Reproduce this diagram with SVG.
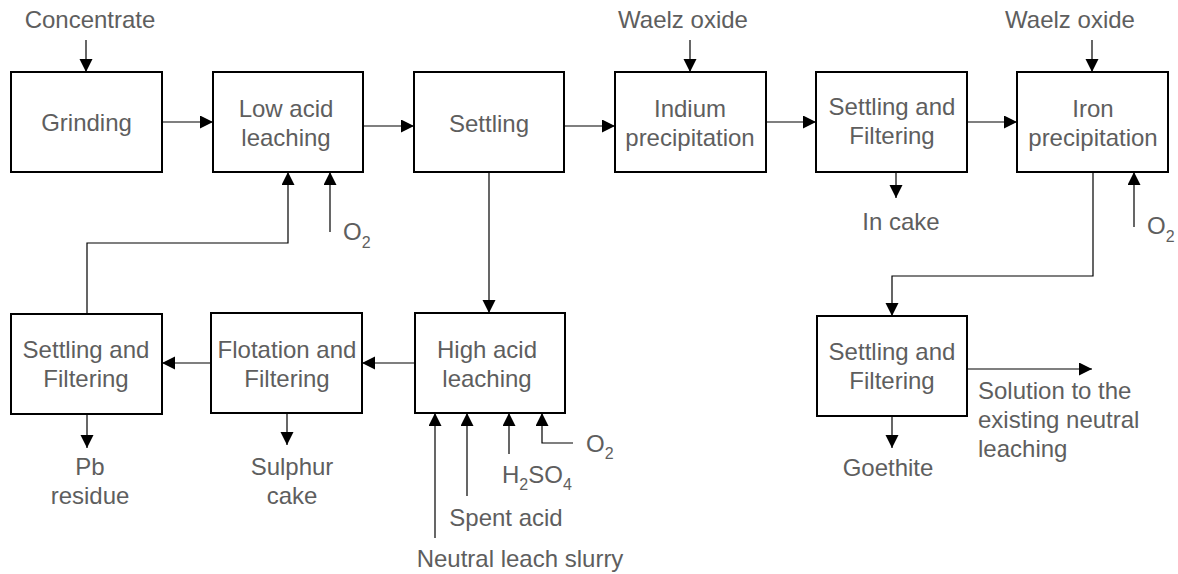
<svg xmlns="http://www.w3.org/2000/svg" width="1178" height="574" viewBox="0 0 1178 574">
<style>
.box{fill:#fff;stroke:#000;stroke-width:2}
.t{font-family:"Liberation Sans",Arial,sans-serif;font-size:24px;fill:#5e5e5e}
.c{text-anchor:middle}
.ln{fill:none;stroke:#000;stroke-width:1.2}
.ar{fill:none;stroke:#000;stroke-width:1.2;marker-end:url(#ah)}
.sub{font-size:16px}
</style>
<defs>
<marker id="ah" markerUnits="userSpaceOnUse" markerWidth="14" markerHeight="14" refX="13" refY="6.5" orient="auto">
<path d="M0,0 L13,6.5 L0,13 z" fill="#000"/>
</marker>
</defs>
<rect width="1178" height="574" fill="#fff"/>
<g id="connectors">
<path class="ar" d="M86,40 V72"/>
<path class="ar" d="M162,122 H213"/>
<path class="ar" d="M363,126 H414"/>
<path class="ar" d="M564,126 H615"/>
<path class="ar" d="M690,40 V72"/>
<path class="ar" d="M766,122 H816"/>
<path class="ar" d="M896,172 V198"/>
<path class="ar" d="M967,122 H1017"/>
<path class="ar" d="M1092,40 V72"/>
<path class="ar" d="M1134,227 V172"/>
<path class="ar" d="M1093,172 V276 H892 V316"/>
<path class="ar" d="M967,369 H1092"/>
<path class="ar" d="M892,416 V448"/>
<path class="ar" d="M489,172 V313"/>
<path class="ar" d="M415,363 H362"/>
<path class="ar" d="M211,363 H162"/>
<path class="ar" d="M87,414 V448"/>
<path class="ar" d="M287,413 V445"/>
<path class="ar" d="M87,314 V243 H288 V172"/>
<path class="ar" d="M330,232 V172"/>
<path class="ar" d="M435,538 V413"/>
<path class="ar" d="M467,496 V413"/>
<path class="ar" d="M509,454 V413"/>
<path class="ar" d="M573,443 H542 V413"/>
</g>
<g id="grinding">
<rect class="box" x="11" y="72" width="151" height="100"/>
<text class="t c" x="86.5" y="131">Grinding</text>
</g>
<g id="low-acid-leaching">
<rect class="box" x="213" y="72" width="150" height="100"/>
<text class="t c" x="286" y="117">Low acid</text>
<text class="t c" x="286" y="146">leaching</text>
</g>
<g id="settling">
<rect class="box" x="414" y="72" width="150" height="100"/>
<text class="t c" x="489" y="132">Settling</text>
</g>
<g id="indium-precipitation">
<rect class="box" x="615" y="72" width="151" height="100"/>
<text class="t c" x="690" y="117">Indium</text>
<text class="t c" x="690" y="146">precipitation</text>
</g>
<g id="settling-filtering-1">
<rect class="box" x="816" y="72" width="151" height="100"/>
<text class="t c" x="892" y="115">Settling and</text>
<text class="t c" x="892" y="144">Filtering</text>
</g>
<g id="iron-precipitation">
<rect class="box" x="1017" y="72" width="151" height="100"/>
<text class="t c" x="1093" y="117">Iron</text>
<text class="t c" x="1093" y="146">precipitation</text>
</g>
<g id="settling-filtering-3">
<rect class="box" x="817" y="316" width="150" height="100"/>
<text class="t c" x="892" y="360">Settling and</text>
<text class="t c" x="892" y="389">Filtering</text>
</g>
<g id="high-acid-leaching">
<rect class="box" x="415" y="313" width="150" height="100"/>
<text class="t c" x="487" y="358">High acid</text>
<text class="t c" x="487" y="387">leaching</text>
</g>
<g id="flotation-filtering">
<rect class="box" x="211" y="313" width="151" height="100"/>
<text class="t c" x="287" y="358">Flotation and</text>
<text class="t c" x="287" y="387">Filtering</text>
</g>
<g id="settling-filtering-2">
<rect class="box" x="11" y="314" width="151" height="100"/>
<text class="t c" x="86" y="358">Settling and</text>
<text class="t c" x="86" y="387">Filtering</text>
</g>
<g id="labels">
<text class="t c" x="90" y="28">Concentrate</text>
<text class="t c" x="683" y="28">Waelz oxide</text>
<text class="t c" x="1070" y="28">Waelz oxide</text>
<text class="t" x="343" y="240">O<tspan class="sub" dy="8">2</tspan></text>
<text class="t" x="1147" y="234">O<tspan class="sub" dy="8">2</tspan></text>
<text class="t" x="586" y="452">O<tspan class="sub" dy="7">2</tspan></text>
<text class="t c" x="901" y="230">In cake</text>
<text class="t c" x="888" y="476">Goethite</text>
<text class="t" x="978" y="399">Solution to the</text>
<text class="t" x="978" y="428">existing neutral</text>
<text class="t" x="978" y="457">leaching</text>
<text class="t c" x="90" y="475">Pb</text>
<text class="t c" x="90" y="504">residue</text>
<text class="t c" x="292" y="475">Sulphur</text>
<text class="t c" x="292" y="504">cake</text>
<text class="t" x="502" y="483">H<tspan class="sub" dy="7">2</tspan><tspan dy="-7">SO</tspan><tspan class="sub" dy="7">4</tspan></text>
<text class="t c" x="506" y="526">Spent acid</text>
<text class="t c" x="520" y="567">Neutral leach slurry</text>
</g>
</svg>
